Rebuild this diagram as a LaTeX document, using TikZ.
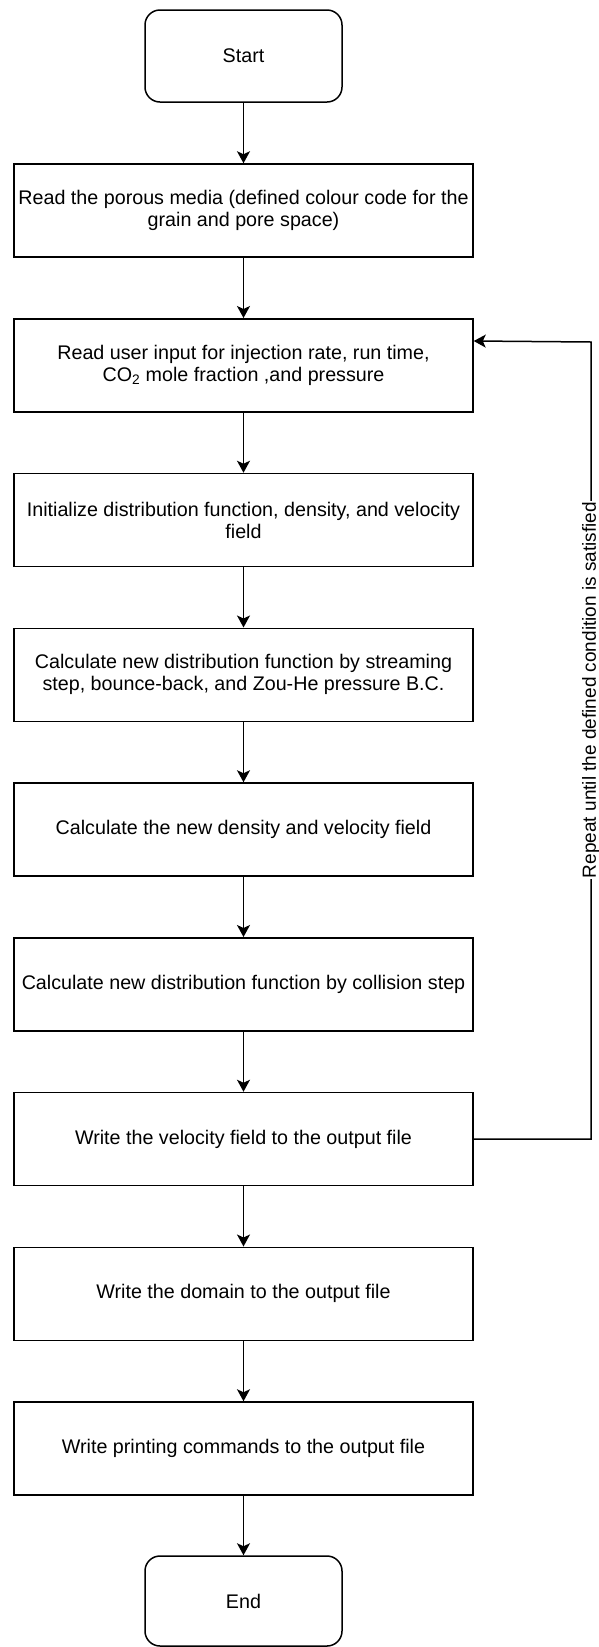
\documentclass[tikz,border=0pt]{standalone}
\usepackage{fontspec}
\setmainfont{Liberation Sans}
\usetikzlibrary{arrows.meta}
\begin{document}
\begin{tikzpicture}[x=1pt,y=-1pt,
  every node/.style={font=\fontsize{19.7}{22}\selectfont},
  procbox/.style={draw, line width=1.5pt, minimum width=459pt, minimum height=93pt, align=center, inner sep=0pt},
  termbox/.style={draw, line width=1.5pt, rounded corners=15pt, minimum width=197pt, minimum height=92pt, align=center, inner sep=0pt},
  flow/.style={line width=1.5pt, -{Stealth[length=12pt,width=13pt,inset=3pt]}},
  looplabel/.style={fill=white, rotate=90, inner sep=1pt, font=\fontsize{19}{22}\selectfont}
]
\useasboundingbox (0,0) rectangle (599,1647);
\node[termbox] (start) at (243.5,56) {Start};
\node[procbox] (b1) at (243.5,210.5) {Read the porous media (defined colour code for the\\grain and pore space)};
\node[procbox] (b2) at (243.5,365.25) {Read user input for injection rate, run time,\\CO\textsubscript{2} mole fraction ,and pressure};
\node[procbox] (b3) at (243.5,520) {Initialize distribution function, density, and velocity\\field};
\node[procbox] (b4) at (243.5,674.75) {Calculate new distribution function by streaming\\step, bounce-back, and Zou-He pressure B.C.};
\node[procbox] (b5) at (243.5,829.5) {Calculate the new density and velocity field};
\node[procbox] (b6) at (243.5,984.25) {Calculate new distribution function by collision step};
\node[procbox] (b7) at (243.5,1139) {Write the velocity field to the output file};
\node[procbox] (b8) at (243.5,1293.75) {Write the domain to the output file};
\node[procbox] (b9) at (243.5,1448.5) {Write printing commands to the output file};
\node[termbox, minimum height=90pt] (end) at (243.5,1601) {End};

\draw[flow] (start) -- (b1);
\draw[flow] (b1) -- (b2);
\draw[flow] (b2) -- (b3);
\draw[flow] (b3) -- (b4);
\draw[flow] (b4) -- (b5);
\draw[flow] (b5) -- (b6);
\draw[flow] (b6) -- (b7);
\draw[flow] (b7) -- (b8);
\draw[flow] (b8) -- (b9);
\draw[flow] (b9) -- (end);

\coordinate (entry) at ([yshift=-23pt]b2.north east);
\coordinate (c1) at (591,1139);
\coordinate (c2) at (591,342);
\draw[flow] (b7.east) -- (c1) -- (c2) -- (entry);
\node[looplabel] (lbl) at (591,690) {Repeat until the defined condition is satisfied};
\end{tikzpicture}
\end{document}
